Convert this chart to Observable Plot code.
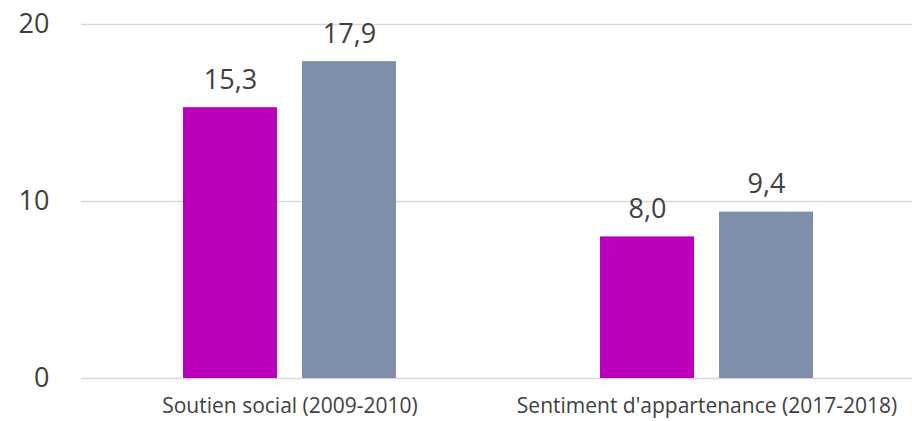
<!DOCTYPE html>
<html>
<head>
<meta charset="utf-8">
<script src="https://cdn.jsdelivr.net/npm/d3@7"></script>
<script src="https://cdn.jsdelivr.net/npm/@observablehq/plot@0.6"></script>
<style>
  html, body { margin: 0; padding: 0; background: #fff; }
  #chart svg { display: block; }
</style>
</head>
<body>
<div id="chart"></div>
<script>
const categories = ["Soutien social (2009-2010)", "Sentiment d'appartenance (2017-2018)"];
const series = ["A", "B"];
const seriesA = [15.3, 8.0];
const seriesB = [17.9, 9.4];
const yTicks = [0, 10, 20];
const colors = ["#BB00BB", "#7F8FA9"];

const data = [];
categories.forEach((c, i) => {
  data.push({category: c, series: series[0], value: seriesA[i]});
  data.push({category: c, series: series[1], value: seriesB[i]});
});
const fmt = v => v.toFixed(1).replace(".", ",");
const font = "Open Sans, sans-serif";

const chart = Plot.plot({
  width: 912,
  height: 421,
  marginLeft: 80,
  marginRight: -3,
  marginTop: 24,
  marginBottom: 43,
  style: {fontFamily: font, color: "#404040", background: "#fff", overflow: "hidden"},
  fx: {domain: categories, padding: 0, label: null, axis: null},
  x: {domain: series, paddingInner: 0.21, paddingOuter: 0.853, axis: null},
  y: {domain: [0, 20], label: null, axis: null},
  color: {domain: series, range: colors},
  marks: [
    Plot.ruleY(yTicks, {stroke: "#D9D9D9", strokeWidth: 1.3}),
    Plot.barY(data, {fx: "category", x: "series", y: "value", fill: "series"}),
    Plot.text(data, {fx: "category", x: "series", y: "value", text: d => fmt(d.value),
      lineAnchor: "bottom", dy: -19, fontSize: 27, fill: "#404040"}),
    Plot.axisY({ticks: yTicks, tickSize: 0, tickPadding: 32, fontSize: 27, label: null, tickFormat: d => d, fill: "#404040"}),
    Plot.axisFx({anchor: "bottom", tickSize: 0, tickPadding: 20, fontSize: 21, label: null, fill: "#404040"})
  ]
});
document.getElementById("chart").appendChild(chart);
</script>
</body>
</html>
